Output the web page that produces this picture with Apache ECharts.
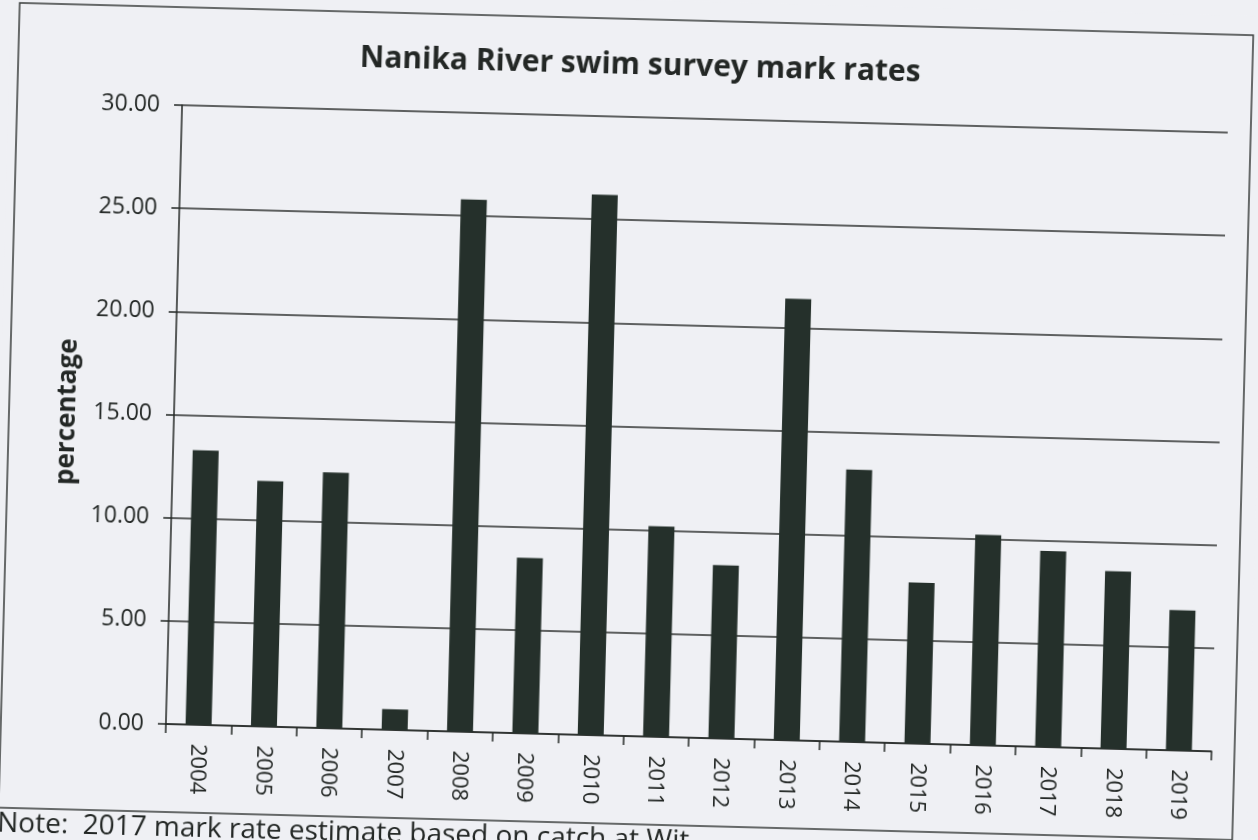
<!DOCTYPE html>
<html>
<head>
<meta charset="utf-8">
<script src="https://cdn.jsdelivr.net/npm/echarts@6/dist/echarts.min.js"></script>
<style>
  html, body { margin: 0; padding: 0; width: 1258px; height: 840px; overflow: hidden; background: #eff0f4; }
  #c { position: absolute; left: 0; top: 0; width: 1258px; height: 900px;
       transform: rotate(1.5deg); transform-origin: 629px 420px; }
</style>
</head>
<body>
<div id="c"></div>
<script>
const titleText = 'Nanika River swim survey mark rates';
const yAxisName = 'percentage';
const noteText = 'Note:  2017 mark rate estimate based on catch at Wit';
const years = ['2004','2005','2006','2007','2008','2009','2010','2011','2012','2013','2014','2015','2016','2017','2018','2019'];
const markRates = [13.3, 11.9, 12.4, 1.0, 25.8, 8.5, 26.2, 10.2, 8.4, 21.4, 13.2, 7.8, 10.2, 9.5, 8.6, 6.8];
const yMin = 0, yMax = 30, yStep = 5;

const ink = '#232725';
const chart = echarts.init(document.getElementById('c'));
chart.setOption({
  backgroundColor: '#eff0f4',
  animation: false,
  title: {
    text: titleText, left: 626, top: 45, textAlign: 'center',
    textStyle: { fontFamily: 'Open Sans', fontWeight: 'bold', fontSize: 30, color: ink }
  },
  grid: { left: 174, right: 38, top: 117, bottom: 164, containLabel: false },
  xAxis: {
    type: 'category', data: years,
    axisLine: { lineStyle: { color: ink, width: 1.5 } },
    axisTick: { show: true, length: 9, lineStyle: { color: ink, width: 1.5 } },
    axisLabel: { rotate: -90, margin: 19, fontFamily: 'Open Sans', fontSize: 22, color: ink }
  },
  yAxis: {
    type: 'value', min: yMin, max: yMax, interval: yStep,
    name: yAxisName, nameLocation: 'middle', nameGap: 93, nameRotate: 90,
    nameTextStyle: { fontFamily: 'Open Sans', fontWeight: 'bold', fontSize: 26, color: ink },
    axisLine: { show: true, lineStyle: { color: ink, width: 1.5 } },
    axisTick: { show: true, length: 8, lineStyle: { color: ink, width: 1.5 } },
    axisLabel: { margin: 22, fontFamily: 'Open Sans', fontSize: 23, color: ink,
                 formatter: v => v.toFixed(2) },
    splitLine: { lineStyle: { color: '#2e302f', width: 1.6 } }
  },
  series: [{
    type: 'bar', data: markRates, barWidth: 26,
    itemStyle: { color: '#25302b' }
  }],
  graphic: [
    { type: 'rect', shape: { x: 9, y: 19, width: 1234, height: 805 },
      style: { fill: 'none', stroke: '#3a3c3b', lineWidth: 1.5 }, silent: true },
    { type: 'text', style: { text: noteText, x: 8, y: 826, fill: ink,
      font: '28px "Open Sans"', textVerticalAlign: 'top' } }
  ]
});
</script>
</body>
</html>
